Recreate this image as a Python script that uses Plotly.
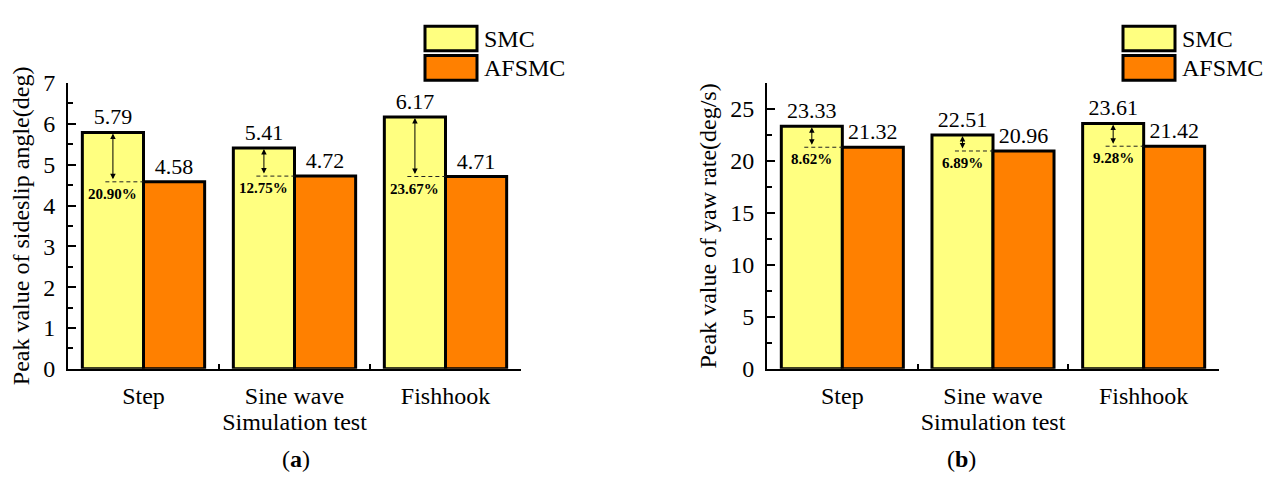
import plotly.graph_objects as go

# ---- data -------------------------------------------------------------
categories = ["Step", "Sine wave", "Fishhook"]
series_names = ["SMC", "AFSMC"]

sideslip_smc = [5.79, 5.41, 6.17]
sideslip_afsmc = [4.58, 4.72, 4.71]
sideslip_reduction = ["20.90%", "12.75%", "23.67%"]

yaw_smc = [23.33, 22.51, 23.61]
yaw_afsmc = [21.32, 20.96, 21.42]
yaw_reduction = ["8.62%", "6.89%", "9.28%"]

sideslip_ticks = [0, 1, 2, 3, 4, 5, 6, 7]
yaw_ticks = [0, 5, 10, 15, 20, 25]

# ---- style ------------------------------------------------------------
SERIF = "Liberation Serif"
COLORS = ["#FFFF80", "#FF8000"]
W, H = 1264, 484
BARGAP = 0.19
HALF = (1 - BARGAP) / 2          # width of one bar in category units


def px_x(p):
    return p / W


def px_y(p):
    return 1 - p / H


fig = go.Figure()

panels = [
    dict(xa="x", ya="y", smc=sideslip_smc, afsmc=sideslip_afsmc,
         red=sideslip_reduction, xdom=(68, 521), legend_x=425, caption="a"),
    dict(xa="x2", ya="y2", smc=yaw_smc, afsmc=yaw_afsmc,
         red=yaw_reduction, xdom=(767, 1219), legend_x=1123, caption="b"),
]

annotations = []
shapes = []

for p in panels:
    for name, vals, col in zip(series_names, [p["smc"], p["afsmc"]], COLORS):
        fig.add_bar(
            x=categories, y=vals, name=name,
            marker=dict(color=col, line=dict(color="black", width=3)),
            text=[f"{v:.2f}" for v in vals], textposition="outside",
            textfont=dict(family=SERIF, size=22, color="black"),
            constraintext="none", cliponaxis=False,
            xaxis=p["xa"], yaxis=p["ya"], showlegend=False,
        )

    xref, yref = p["xa"], p["ya"]
    for i, (hi, lo, red) in enumerate(zip(p["smc"], p["afsmc"], p["red"])):
        cx = i - HALF / 2            # centre of the SMC bar
        # double-headed arrow between the two peak values
        annotations.append(dict(
            x=cx, y=hi, ax=cx, ay=lo, xref=xref, yref=yref,
            axref=xref, ayref=yref, text="", showarrow=True,
            arrowside="end+start", arrowhead=2, startarrowhead=2,
            arrowsize=1.1, startarrowsize=1.1, arrowwidth=1,
            arrowcolor="black", standoff=1, startstandoff=1,
        ))
        # dashed reference at the AFSMC level
        shapes.append(dict(
            type="line", xref=xref, yref=yref, x0=cx - 0.05, x1=i,
            y0=lo, y1=lo,
            line=dict(color="#222222", width=1, dash="4px,3px"),
        ))
        annotations.append(dict(
            x=cx, y=lo, xref=xref, yref=yref, text=f"<b>{red}</b>",
            showarrow=False, yanchor="top", yshift=-2,
            font=dict(family=SERIF, size=15, color="black"),
        ))

    # legend boxes and labels
    lx = p["legend_x"]
    for k, (name, col) in enumerate(zip(series_names, COLORS)):
        top = 14 + k * 31
        shapes.append(dict(
            type="rect", xref="paper", yref="paper",
            x0=px_x(lx), x1=px_x(lx + 52), y0=px_y(top + 26), y1=px_y(top),
            fillcolor=col, line=dict(color="black", width=3),
        ))
        annotations.append(dict(
            x=px_x(lx + 57), y=px_y(top + 13), xref="paper", yref="paper",
            xanchor="left", yanchor="middle", text=name, showarrow=False,
            font=dict(family=SERIF, size=24, color="black"),
        ))

    # panel caption
    annotations.append(dict(
        x=px_x((p["xdom"][0] + p["xdom"][1]) / 2 - 15), y=px_y(487),
        xref="paper", yref="paper", text=f"(<b>{p['caption']}</b>)",
        showarrow=False, yanchor="bottom",
        font=dict(family=SERIF, size=24, color="black"),
    ))

ydom = [108 / H, 410 / H]

xaxis_common = dict(
    type="category", range=[-0.5, 2.5], tickson="boundaries",
    ticks="inside", ticklen=5, tickwidth=1.5, tickcolor="black",
    showline=True, linecolor="black", linewidth=2,
    showgrid=False, zeroline=False,
    tickfont=dict(family=SERIF, size=24, color="black"),
    ticklabelstandoff=4,
    title=dict(text="Simulation test", standoff=4,
               font=dict(family=SERIF, size=24, color="black")),
)
yaxis_common = dict(
    ticks="inside", ticklen=8, tickwidth=1.5, tickcolor="black",
    showline=True, linecolor="black", linewidth=2,
    showgrid=False, zeroline=False, domain=ydom,
    tickfont=dict(family=SERIF, size=24, color="black"),
    ticklabelstandoff=6,
)

fig.update_layout(
    width=W, height=H, margin=dict(l=0, r=0, t=0, b=0),
    paper_bgcolor="white", plot_bgcolor="white",
    bargap=BARGAP, bargroupgap=0, barmode="group",
    xaxis=dict(xaxis_common, domain=[px_x(68), px_x(521)], anchor="y"),
    xaxis2=dict(xaxis_common, domain=[px_x(767), px_x(1219)], anchor="y2"),
    yaxis=dict(
        yaxis_common, anchor="x", range=[0, 7], tickvals=sideslip_ticks,
        minor=dict(ticks="inside", ticklen=5, dtick=0.5, tickcolor="black",
                   showgrid=False),
        title=dict(text="Peak value of sideslip angle(deg)", standoff=7,
                   font=dict(family=SERIF, size=24, color="black")),
    ),
    yaxis2=dict(
        yaxis_common, anchor="x2", range=[0, 27.5], tickvals=yaw_ticks,
        minor=dict(ticks="inside", ticklen=5, dtick=2.5, tickcolor="black",
                   showgrid=False),
        title=dict(text="Peak value of yaw rate(deg/s)", standoff=7,
                   font=dict(family=SERIF, size=24, color="black")),
    ),
    annotations=annotations, shapes=shapes,
)

# drop the page's default body margin so the figure sits flush in the window
fig.write_html(
    "out.html",
    post_script="document.body.style.margin='0';"
                "document.body.style.overflow='hidden';",
)
